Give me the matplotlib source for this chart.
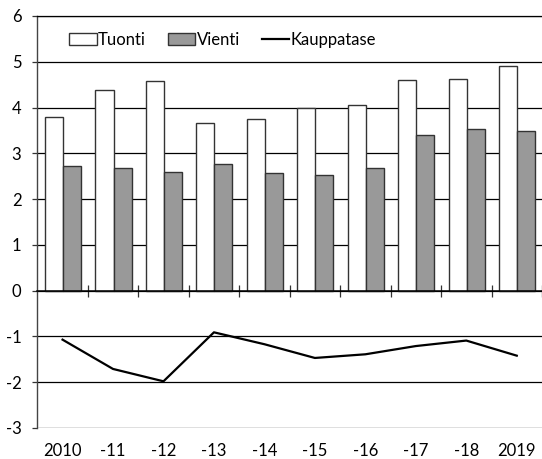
import matplotlib
matplotlib.use("Agg")
import matplotlib.pyplot as plt
import numpy as np
from matplotlib.patches import Patch
from matplotlib.lines import Line2D

plt.rcParams['font.family'] = ['Lato', 'DejaVu Sans']

years = ["2010", "-11", "-12", "-13", "-14", "-15", "-16", "-17", "-18", "2019"]
tuonti = [3.79, 4.39, 4.59, 3.67, 3.74, 3.99, 4.06, 4.61, 4.63, 4.91]
vienti = [2.72, 2.67, 2.60, 2.77, 2.57, 2.52, 2.67, 3.39, 3.54, 3.49]
kauppatase = [-1.07, -1.71, -1.98, -0.91, -1.17, -1.47, -1.39, -1.21, -1.09, -1.42]
yticks = [-3, -2, -1, 0, 1, 2, 3, 4, 5, 6]

W, H = 542, 459
fig = plt.figure(figsize=(W / 100, H / 100), dpi=100)
ax = fig.add_axes([37.3 / W, (H - 428) / H, 1 - 37.3 / W, (428 - 16) / H])

x = np.arange(len(years))
bw = 0.357
ax.bar(x - bw / 2 + 0.01, tuonti, width=bw, color='white', edgecolor='#333333', linewidth=1.0, zorder=3)
ax.bar(x + bw / 2 + 0.01, vienti, width=bw, color='#999999', edgecolor='#333333', linewidth=1.0, zorder=3)
ax.plot(x, kauppatase, color='black', linewidth=1.6, zorder=4)

ax.set_xlim(-0.5, len(years) - 0.5)
ax.set_ylim(-3, 6)
ax.set_yticks(yticks)
ax.set_yticklabels([str(v) for v in yticks], fontsize=12)
ax.yaxis.grid(True, color='black', linewidth=0.9, zorder=1)
ax.set_axisbelow(True)
ax.tick_params(axis='y', direction='out', length=3.5, width=0.9, color='#333333', pad=8)

for s in ['right']:
    ax.spines[s].set_visible(False)
ax.spines['top'].set_color('black')
ax.spines['top'].set_linewidth(0.9)
ax.spines['left'].set_color('#444444')
ax.spines['left'].set_linewidth(1.0)
ax.spines['bottom'].set_position(('data', 0))
ax.spines['bottom'].set_color('black')
ax.spines['bottom'].set_linewidth(1.1)
ax.spines['bottom'].set_zorder(5)

ax.set_xticks(x)
ax.set_xticklabels([])
ax.tick_params(axis='x', which='major', length=0)
ax.set_xticks(np.arange(0.5, len(years) - 0.5 + 1e-9, 1.0), minor=True)
ax.tick_params(axis='x', which='minor', direction='inout', length=8, width=0.9, color='#333333')

sec = ax.secondary_xaxis('bottom')
sec.set_xticks(x)
sec.set_xticklabels(years, fontsize=12)
sec.tick_params(length=0, pad=11)
sec.spines['bottom'].set_visible(False)

handles = [Patch(facecolor='white', edgecolor='#333333', linewidth=1.0),
           Patch(facecolor='#999999', edgecolor='#333333', linewidth=1.0),
           Line2D([0], [0], color='black', linewidth=1.6)]
fig.legend(handles, ['Tuonti', 'Vienti', 'Kauppatase'], loc='center left',
           bbox_to_anchor=(69 / W, 1 - 40 / H), ncol=3, frameon=False, fontsize=12,
           handlelength=1.65, handleheight=0.7, handletextpad=0.1, columnspacing=1.3,
           borderaxespad=0, borderpad=0)

fig.savefig('out.png', dpi=100)
